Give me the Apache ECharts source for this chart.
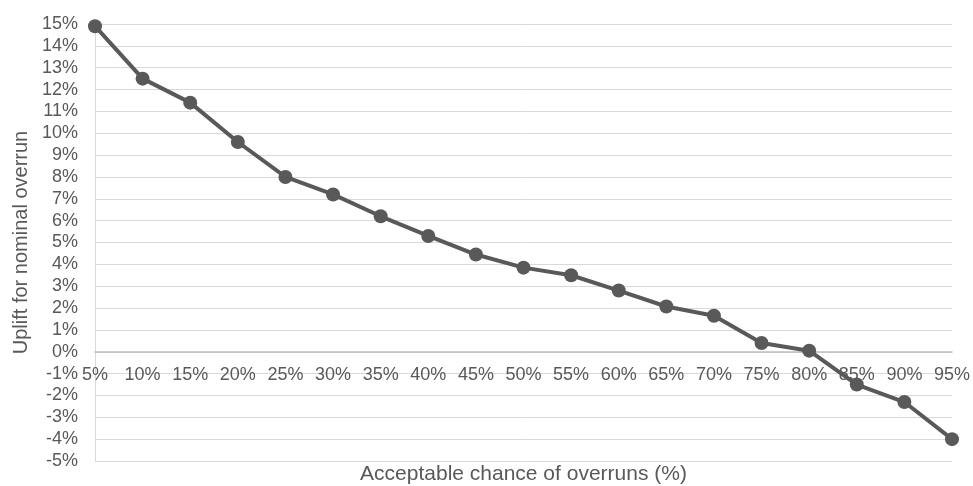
<!DOCTYPE html>
<html>
<head>
<meta charset="utf-8">
<script src="https://cdn.jsdelivr.net/npm/echarts@6/dist/echarts.min.js"></script>
<style>
html,body{margin:0;padding:0;background:#fff;}
#chart{width:973px;height:486px;}
</style>
</head>
<body>
<div id="chart"></div>
<script>
const categories = ['5%','10%','15%','20%','25%','30%','35%','40%','45%','50%','55%','60%','65%','70%','75%','80%','85%','90%','95%'];
const upliftValues = [14.9, 12.5, 11.4, 9.6, 8.0, 7.2, 6.2, 5.3, 4.45, 3.85, 3.5, 2.8, 2.07, 1.65, 0.4, 0.05, -1.5, -2.3, -4.0];
const xAxisTitle = 'Acceptable chance of overruns (%)';
const yAxisTitle = 'Uplift for nominal overrun';

const chart = echarts.init(document.getElementById('chart'));
const font = 'Liberation Sans, Arial, sans-serif';
chart.setOption({
  animation: false,
  grid: {left: 95, right: 21, top: 24, bottom: 25, containLabel: false, outerBoundsMode: 'none'},
  xAxis: {
    type: 'category',
    data: categories,
    boundaryGap: false,
    offset: -109,
    name: xAxisTitle,
    nameLocation: 'middle',
    nameGap: 112,
    nameTextStyle: {fontFamily: font, fontSize: 21, color: '#595959'},
    axisLine: {onZero: false, lineStyle: {color: '#bfbfbf', width: 1.5}},
    axisTick: {show: false},
    axisLabel: {interval: 0, fontFamily: font, fontSize: 18, color: '#595959', margin: 14, hideOverlap: false},
    splitLine: {show: false}
  },
  yAxis: {
    type: 'value',
    min: -5, max: 15, interval: 1,
    name: yAxisTitle,
    nameLocation: 'middle',
    nameGap: 63,
    nameTextStyle: {fontFamily: font, fontSize: 20, color: '#595959'},
    axisLine: {show: true, lineStyle: {color: '#d9d9d9', width: 1}},
    axisTick: {show: false},
    axisLabel: {formatter: '{value}%', fontFamily: font, fontSize: 18, color: '#595959', margin: 17, showMinLabel: true, showMaxLabel: true, hideOverlap: false},
    splitLine: {show: true, lineStyle: {color: '#d9d9d9', width: 1}}
  },
  series: [{
    type: 'line',
    data: upliftValues,
    symbol: 'circle',
    symbolSize: 14,
    lineStyle: {color: '#595959', width: 4},
    itemStyle: {color: '#595959'},
    z: 5
  }]
});
</script>
</body>
</html>
